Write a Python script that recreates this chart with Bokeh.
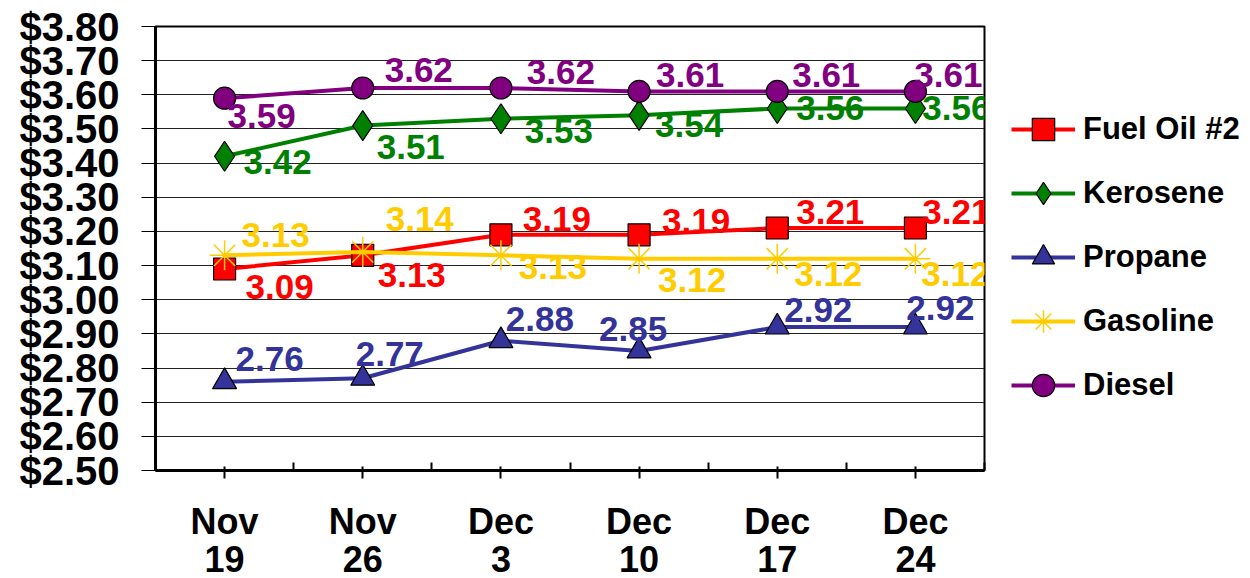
from bokeh.plotting import figure
from bokeh.models import (FixedTicker, NumeralTickFormatter, Legend, LegendItem, Range1d,
                          ColumnDataSource, LabelSet)
from bokeh.core.properties import value
from bokeh.embed import file_html
from bokeh.resources import INLINE

# ---------------- data ----------------
categories = ["Nov\n19", "Nov\n26", "Dec\n3", "Dec\n10", "Dec\n17", "Dec\n24"]
fuel_oil = [3.09, 3.13, 3.19, 3.19, 3.21, 3.21]
kerosene = [3.42, 3.51, 3.53, 3.54, 3.56, 3.56]
propane = [2.76, 2.77, 2.88, 2.85, 2.92, 2.92]
gasoline = [3.13, 3.14, 3.13, 3.12, 3.12, 3.12]
diesel = [3.59, 3.62, 3.62, 3.61, 3.61, 3.61]
series_names = ["Fuel Oil #2", "Kerosene", "Propane", "Gasoline", "Diesel"]
y_ticks = [2.5, 2.6, 2.7, 2.8, 2.9, 3.0, 3.1, 3.2, 3.3, 3.4, 3.5, 3.6, 3.7, 3.8]

# ---------------- styles ----------------
FONT = "Liberation Sans"
colors = ["#FF0000", "#008000", "#333399", "#FFCC00", "#800080"]
markers = ["square", "diamond", "triangle", "asterisk", "circle"]
marker_sizes = [22, 30, 24, 30, 22]
# label offsets in screen px (dx right, dy up)
label_dx = [
    [55, 49, 56, 57, 53, 41],
    [53, 48, 58, 50, 53, 41],
    [45, 27, 39, -6, 41, 25],
    [51, 57, 52, 53, 51, 40],
    [37, 56, 60, 51, 49, 33],
]
label_dy = [
    [-18, -20, 16, 14, 16, 16],
    [-6, -21, -12, -10, 0, 0],
    [23, 24, 22, 22, 17, 19],
    [20, 33, -12, -21, -15, -15],
    [-18, 18, 16, 16, 16, 16],
]

n = len(categories)
xs = [i + 0.5 for i in range(n)]

p = figure(frame_width=829, frame_height=444,
           x_range=Range1d(0, n), y_range=Range1d(y_ticks[0], y_ticks[-1]),
           output_backend="svg", toolbar_location=None,
           min_border_left=155, min_border_top=26, min_border_bottom=100, min_border_right=250)
p.background_fill_color = "white"
p.border_fill_color = "white"
p.outline_line_color = "black"
p.outline_line_width = 2

# y axis
p.yaxis.ticker = FixedTicker(ticks=y_ticks)
p.yaxis.formatter = NumeralTickFormatter(format="$0.00")
p.yaxis.major_label_text_font = FONT
p.yaxis.major_label_text_font_style = "bold"
p.yaxis.major_label_text_font_size = "40px"
p.yaxis.major_label_text_color = "black"
p.yaxis.major_tick_out = 14
p.yaxis.major_tick_in = 0
p.yaxis.major_tick_line_color = "black"
p.yaxis.minor_tick_line_color = None
p.yaxis.axis_line_width = 3
p.yaxis.axis_line_color = "black"
p.yaxis.major_label_standoff = 22

# x axis
p.xaxis.ticker = FixedTicker(ticks=xs, minor_ticks=list(range(n + 1)))
p.xaxis.major_label_overrides = {x: c for x, c in zip(xs, categories)}
p.xaxis.major_label_text_font = FONT
p.xaxis.major_label_text_font_style = "bold"
p.xaxis.major_label_text_font_size = "36px"
p.xaxis.major_label_text_color = "black"
p.xaxis.major_label_text_line_height = 0.94
p.xaxis.major_tick_out = 8
p.xaxis.major_tick_in = 4
p.xaxis.major_tick_line_width = 2
p.xaxis.minor_tick_in = 8
p.xaxis.minor_tick_out = 0
p.xaxis.minor_tick_line_width = 2
p.xaxis.minor_tick_line_color = "black"
p.xaxis.axis_line_width = 3
p.xaxis.major_label_standoff = 22

p.xgrid.grid_line_color = None
p.ygrid.grid_line_color = "#222222"
p.ygrid.grid_line_width = 1

all_series = [fuel_oil, kerosene, propane, gasoline, diesel]
items = []
for k, vals in enumerate(all_series):
    c = colors[k]
    ln = p.line(xs, vals, line_color=c, line_width=4)
    if markers[k] == "asterisk":
        sc = p.scatter(xs, vals, marker="asterisk", size=marker_sizes[k],
                       line_color=c, line_width=1.5)
    else:
        sc = p.scatter(xs, vals, marker=markers[k], size=marker_sizes[k],
                       fill_color=c, line_color="black", line_width=1.2)
    items.append(LegendItem(label=series_names[k], renderers=[ln, sc]))

for k, vals in enumerate(all_series):
    src = ColumnDataSource(dict(x=xs, y=vals, t=[f"{v:.2f}" for v in vals],
                                dx=label_dx[k], dy=label_dy[k]))
    ls = LabelSet(x="x", y="y", text="t", x_offset="dx", y_offset="dy", source=src,
                  text_align="center", text_baseline="middle",
                  text_font=value(FONT), text_font_style="bold",
                  text_font_size="35px", text_color=colors[k])
    p.add_layout(ls)

legend = Legend(items=items, location=(27, 57))
legend.label_text_font = FONT
legend.label_text_font_style = "bold"
legend.label_text_font_size = "31px"
legend.label_text_color = "black"
legend.glyph_width = 64
legend.glyph_height = 56
legend.label_height = 30
legend.label_standoff = 8
legend.spacing = 8
legend.padding = 10
legend.margin = 0
legend.border_line_color = None
legend.background_fill_alpha = 0
p.add_layout(legend, "right")

open("out.html", "w").write(file_html(p, INLINE))
